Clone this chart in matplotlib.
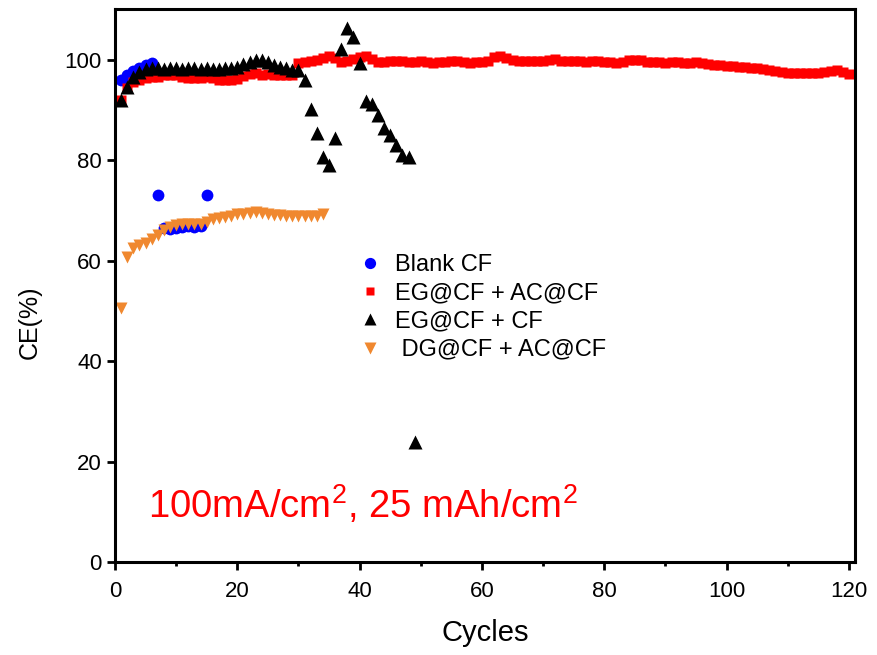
import matplotlib
matplotlib.use("Agg")
import matplotlib.pyplot as plt
from matplotlib.ticker import MultipleLocator

plt.rcParams['font.family'] = ['Liberation Sans', 'DejaVu Sans']
plt.rcParams['mathtext.fontset'] = 'custom'
plt.rcParams['mathtext.rm'] = 'Liberation Sans'
plt.rcParams['mathtext.default'] = 'regular'

# Blank CF
blank_x = list(range(1, 16))
blank_y = [96.0, 97.0, 97.8, 98.4, 98.9, 99.3, 73.0, 66.5, 66.2, 66.5, 66.6, 66.8, 66.6, 66.9, 73.0]

# EG@CF + AC@CF
egac_x = list(range(1, 121))
egac_y = [92.0, 94.3, 95.5, 96.0, 96.3, 96.5, 96.6, 96.9, 97.0, 96.9,
          96.5, 96.4, 96.3, 96.4, 96.5, 96.3, 96.0, 95.9, 95.9, 96.2,
          96.8, 97.2, 97.3, 97.0, 97.2, 97.0, 96.9, 97.0, 97.0, 99.3,
          99.6, 99.8, 99.9, 100.3, 100.8, 100.3, 99.6, 99.8, 100.2, 100.6,
          100.8, 100.2, 99.6, 99.5, 99.7, 99.8, 99.7, 99.5, 99.6, 99.8,
          99.6, 99.4, 99.6, 99.6, 99.8, 99.7, 99.5, 99.4, 99.5, 99.6,
          99.8, 100.5, 100.8, 100.4, 99.9, 99.7, 99.7, 99.8, 99.7, 99.8,
          100.0, 100.1, 99.8, 99.7, 99.7, 99.7, 99.6, 99.7, 99.7, 99.5,
          99.5, 99.4, 99.5, 99.9, 100.0, 99.9, 99.6, 99.5, 99.5, 99.4,
          99.5, 99.5, 99.4, 99.4, 99.5, 99.4, 99.2, 99.0, 98.9, 98.8,
          98.7, 98.6, 98.5, 98.4, 98.3, 98.2, 98.0, 97.8, 97.6, 97.4,
          97.4, 97.3, 97.3, 97.3, 97.4, 97.5, 97.8, 97.9, 97.6, 97.1]

# EG@CF + CF
egcf_x = list(range(1, 50))
egcf_y = [91.9, 94.5, 96.5, 97.6, 98.2, 98.3, 98.3, 98.2, 98.3, 98.3,
          98.2, 98.3, 98.3, 98.2, 98.3, 98.2, 98.2, 98.3, 98.3, 98.6,
          99.1, 99.6, 100.0, 100.0, 99.5, 99.0, 98.5, 98.3, 98.0, 98.0,
          95.9, 90.1, 85.3, 80.6, 79.0, 84.3, 102.0, 106.2, 104.4, 99.3,
          91.7, 91.1, 88.9, 86.3, 84.9, 83.0, 81.0, 80.6, 23.9]

# DG@CF + AC@CF
dgac_x = list(range(1, 35))
dgac_y = [50.5, 60.7, 62.5, 63.0, 63.4, 64.3, 65.0, 66.0, 66.6, 67.0,
          67.2, 67.3, 67.3, 67.2, 67.6, 68.2, 68.5, 68.6, 68.8, 69.2,
          69.3, 69.5, 69.7, 69.5, 69.3, 69.1, 69.0, 68.9, 68.8, 68.8,
          68.8, 68.8, 68.9, 69.3]

labels = ['Blank CF', 'EG@CF + AC@CF', 'EG@CF + CF', ' DG@CF + AC@CF']

fig = plt.figure(figsize=(8.77, 6.55), dpi=100)
ax = fig.add_axes([0.1311, 0.142, 0.8438, 0.8438])

ax.plot(blank_x, blank_y, 'o', color='#0000FF', ms=8.5, mec='none', label=labels[0])
ax.plot(egac_x, egac_y, 's', color='#FF0000', ms=6.8, mec='none', label=labels[1])
ax.plot(egcf_x, egcf_y, '^', color='black', ms=9.5, mec='none', label=labels[2])
ax.plot(dgac_x, dgac_y, 'v', color='#F0882F', ms=9, mec='none', label=labels[3])

ax.set_xlim(0, 121)
ax.set_ylim(0, 110)
ax.xaxis.set_major_locator(MultipleLocator(20))
ax.xaxis.set_minor_locator(MultipleLocator(10))
ax.yaxis.set_major_locator(MultipleLocator(20))

for s in ax.spines.values():
    s.set_linewidth(2.2)
ax.tick_params(which='major', direction='out', length=6, width=2, labelsize=16)
ax.tick_params(axis='x', which='major', pad=8)
ax.tick_params(which='minor', direction='out', length=3, width=2)

ax.set_xlabel('Cycles', fontsize=21, va='center')
ax.xaxis.set_label_coords(0.501, -0.128)
ax.set_ylabel('CE(%)', fontsize=18, va='center')
ax.yaxis.set_label_coords(-0.115, 0.434)

ax.text(5.4, 8.7, '100mA/cm$^2$, 25 mAh/cm$^2$', color='#FF0000',
        fontsize=27.5, va='baseline', ha='left')

ax.legend(loc='upper left', bbox_to_anchor=(0.30, 0.595), frameon=False,
          fontsize=17, handlelength=1.0, handletextpad=0.56, labelspacing=0.26,
          markerscale=0.95)

fig.savefig('out.png', dpi=100, facecolor='white')
